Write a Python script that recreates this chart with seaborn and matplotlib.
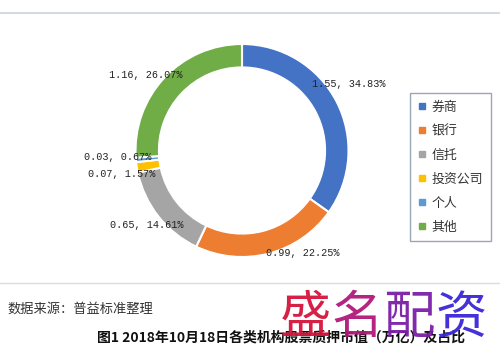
import numpy as np
import seaborn as sns
import matplotlib.pyplot as plt
from matplotlib.lines import Line2D

# data
categorias = ['券商', '银行', '信托', '投资公司', '个人', '其他']
valores = [1.55, 0.99, 0.65, 0.07, 0.03, 1.16]
percentuais = ['34.83%', '22.25%', '14.61%', '1.57%', '0.67%', '26.07%']
cores = ['#4472C4', '#ED7D31', '#A5A5A5', '#FFC000', '#5B9BD5', '#70AD47']

sns.set_theme(style='white')
plt.rcParams['font.family'] = ['Noto Sans CJK SC', 'DejaVu Sans']

fig = plt.figure(figsize=(5, 3.55), dpi=100)
ax = fig.add_axes([0, 0, 1, 1])
paleta = sns.color_palette(cores)

wedges, _ = ax.pie(valores, colors=paleta, startangle=90, counterclock=False,
                   radius=1.0, wedgeprops=dict(width=0.22, edgecolor='white', linewidth=1.5))

# label placement (data units, radius = 1)
pos_rotulos = [(1.0, 0.62), (0.57, -0.96), (-0.89, -0.70),
               (-1.13, -0.22), (-1.17, -0.06), (-0.90, 0.71)]
for v, p, (x, y) in zip(valores, percentuais, pos_rotulos):
    ax.text(x, y, '{:.2f}, {}'.format(v, p), ha='center', va='center',
            fontsize=7.3, family='Liberation Mono', color='#222222')

# scale so that 1 data unit = 106.5 px, center at (242, 150.5)
r = 106.5
ax.set_xlim(-242 / r, (500 - 242) / r)
ax.set_ylim((150.5 - 355) / r, 150.5 / r)
ax.set_aspect('auto')
ax.axis('off')

# legend
handles = [Line2D([0], [0], marker='s', linestyle='none', markersize=4.5,
                  markerfacecolor=c, markeredgecolor=c) for c in paleta]
leg = fig.legend(handles, categorias, loc='upper left',
                 bbox_to_anchor=(410 / 500, 1 - 93 / 355), frameon=True,
                 fancybox=False, fontsize=9.3, labelspacing=0.85,
                 handlelength=0.6, handletextpad=0.45, borderpad=0.6,
                 borderaxespad=0)
leg.get_frame().set_edgecolor('#8090a0')
leg.get_frame().set_linewidth(1.0)
for t in leg.get_texts():
    t.set_color('#333333')

# rules
fig.add_artist(Line2D([0, 1], [1 - 13 / 355, 1 - 13 / 355], color='#c9d3de', lw=1.2))
fig.add_artist(Line2D([0, 1], [1 - 283 / 355, 1 - 283 / 355], color='#d5dde5', lw=1.0))

# source and caption
fig.text(7 / 500, 1 - 309 / 355, '数据来源：普益标准整理', fontsize=9.5,
         color='#333333', va='center', ha='left')
fig.text(281 / 500, 1 - 338 / 355, '图1 2018年10月18日各类机构股票质押市值（万亿）及占比',
         fontsize=10, fontweight='bold', color='#111111', va='center', ha='center')

# watermark
marca = ['盛', '名', '配', '资']
cores_marca = ['#d4143c', '#b0187a', '#7a1ea8', '#3a26d8']
for i, (ch, c) in enumerate(zip(marca, cores_marca)):
    fig.text((305 + i * 52) / 500, 1 - 318 / 355, ch, fontsize=37,
             fontweight='light', color=c, va='center', ha='center', alpha=0.95)

fig.savefig('out.png', dpi=100)
